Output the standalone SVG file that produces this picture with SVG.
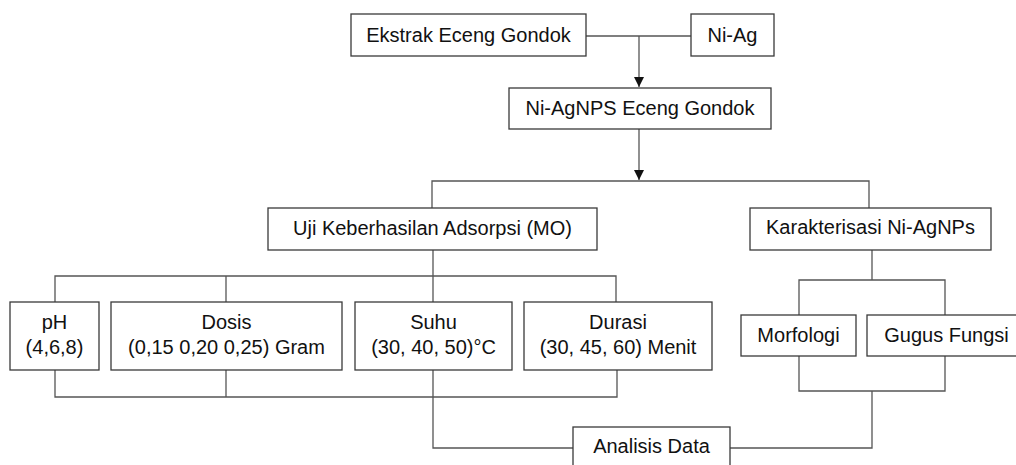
<svg xmlns="http://www.w3.org/2000/svg" width="1016" height="465" viewBox="0 0 1016 465">
<style>
.box{fill:#fff;stroke:#3a3a3a;stroke-width:1.3}
.ln{fill:none;stroke:#555;stroke-width:1.3}
text{font-family:"Liberation Sans",Arial,sans-serif;font-size:20px;fill:#111;text-anchor:middle}
</style>
<defs>
<marker id="arr" viewBox="0 0 10 10" refX="10" refY="5" markerWidth="10" markerHeight="10" markerUnits="userSpaceOnUse" orient="auto">
<path d="M0,0 L10,5 L0,10 z" fill="#111"/>
</marker>
</defs>
<rect width="1016" height="465" fill="#fff"/>
<g id="connectors">
<path class="ln" d="M586,36 H691"/>
<path class="ln" d="M639,36 V87" marker-end="url(#arr)"/>
<path class="ln" d="M639,129 V180" marker-end="url(#arr)"/>
<path class="ln" d="M432,208 V181 H869 V208"/>
<path class="ln" d="M433,250 V302"/>
<path class="ln" d="M55,302 V276 H616 V302"/>
<path class="ln" d="M226,276 V302"/>
<path class="ln" d="M55,370 V397 H617 V370"/>
<path class="ln" d="M226,370 V397"/>
<path class="ln" d="M433,370 V448 H573"/>
<path class="ln" d="M872,250 V280"/>
<path class="ln" d="M799,315 V280 H945 V315"/>
<path class="ln" d="M799,356 V391 H945 V356"/>
<path class="ln" d="M872,391 V448 H730"/>
</g>
<g id="ekstrak"><rect class="box" x="351" y="14" width="235" height="42"/><text x="468.5" y="42">Ekstrak Eceng Gondok</text></g>
<g id="niag"><rect class="box" x="691" y="14" width="83" height="42"/><text x="732.5" y="42">Ni-Ag</text></g>
<g id="niagnps"><rect class="box" x="509" y="88" width="262" height="41"/><text x="640" y="115">Ni-AgNPS Eceng Gondok</text></g>
<g id="uji"><rect class="box" x="268" y="208" width="329" height="42"/><text x="432.5" y="235">Uji Keberhasilan Adsorpsi (MO)</text></g>
<g id="karakterisasi"><rect class="box" x="750" y="208" width="241" height="42"/><text x="870.5" y="234">Karakterisasi Ni-AgNPs</text></g>
<g id="ph"><rect class="box" x="10" y="302" width="89" height="68"/><text x="54.5" y="329">pH</text><text x="54.5" y="354">(4,6,8)</text></g>
<g id="dosis"><rect class="box" x="111" y="302" width="231" height="68"/><text x="226.5" y="329">Dosis</text><text x="226.5" y="354">(0,15 0,20 0,25) Gram</text></g>
<g id="suhu"><rect class="box" x="355" y="302" width="157" height="68"/><text x="433.5" y="329">Suhu</text><text x="433.5" y="354">(30, 40, 50)°C</text></g>
<g id="durasi"><rect class="box" x="524" y="302" width="188" height="68"/><text x="618" y="329">Durasi</text><text x="618" y="354">(30, 45, 60) Menit</text></g>
<g id="morfologi"><rect class="box" x="741" y="315" width="115" height="41"/><text x="798.5" y="342">Morfologi</text></g>
<g id="gugus"><rect class="box" x="867" y="315" width="155" height="41"/><text x="946.5" y="342">Gugus Fungsi</text></g>
<g id="analisis"><rect class="box" x="573" y="427" width="157" height="50"/><text x="651.5" y="453">Analisis Data</text></g>
</svg>
